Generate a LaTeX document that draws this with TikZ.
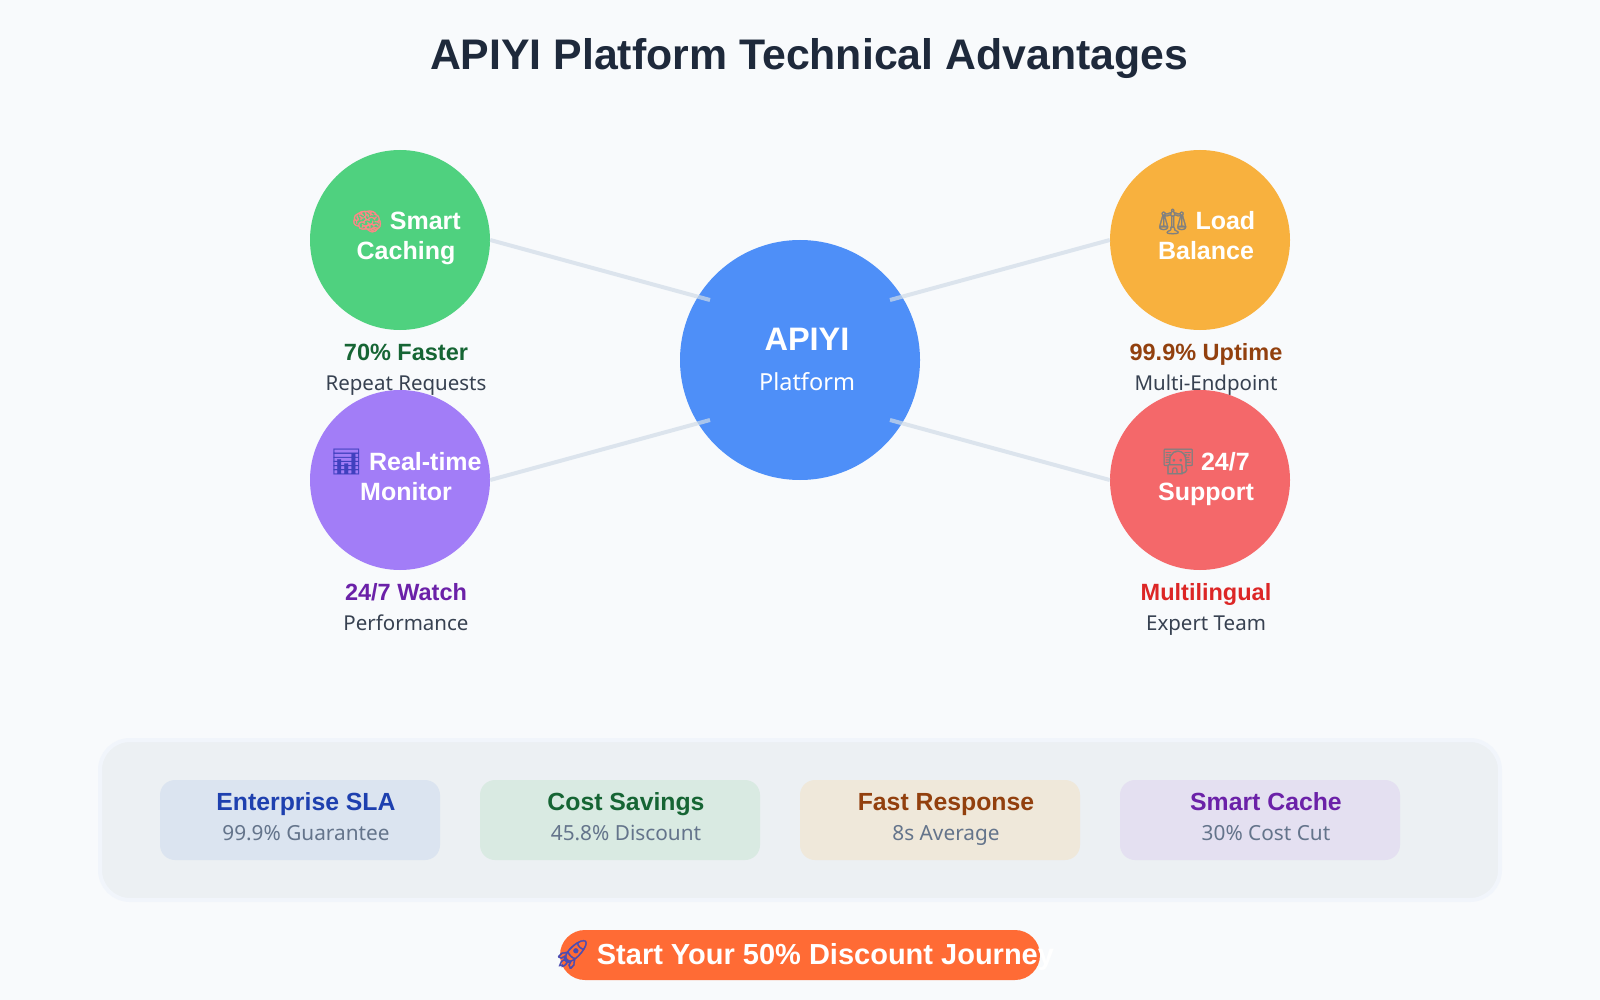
\documentclass[tikz,border=0pt]{standalone}
\usepackage{fontspec}
\setmainfont{Noto Sans}[BoldFont={Liberation Sans Bold}]
\newfontfamily\emojifont[FakeBold=1.2]{Noto Emoji}
\usetikzlibrary{positioning}
\definecolor{pagebg}{HTML}{F8FAFC}
\definecolor{titleink}{HTML}{1E293B}
\definecolor{subink}{HTML}{374151}
\definecolor{chipink}{HTML}{64748B}
\definecolor{linkline}{HTML}{D1DCE8}
\definecolor{hubblue}{HTML}{4E8FF8}
\definecolor{cachegreen}{HTML}{4FD17F}
\definecolor{loadorange}{HTML}{F8B13E}
\definecolor{watchpurple}{HTML}{A27DF7}
\definecolor{supportred}{HTML}{F4686A}
\definecolor{inkblue}{HTML}{1E40AF}
\definecolor{inkgreen}{HTML}{166534}
\definecolor{inkorange}{HTML}{92400E}
\definecolor{inkpurple}{HTML}{6B21A8}
\definecolor{inkred}{HTML}{DC2626}
\definecolor{chipblue}{HTML}{DBE4F0}
\definecolor{chipgreen}{HTML}{D9EAE2}
\definecolor{chiporange}{HTML}{EFE8DA}
\definecolor{chippurple}{HTML}{E4E0F1}
\definecolor{panelfill}{HTML}{ECF0F3}
\definecolor{panelrim}{HTML}{F1F5FB}
\definecolor{rocketorange}{HTML}{FF6B35}
\begin{document}
\begin{tikzpicture}[x=1pt,y=-1pt,
                    feature/.style={circle,inner sep=0pt,minimum size=180pt},
                    captext/.style={anchor=base,inner sep=0pt,text=white,font=\fontsize{25}{30}\selectfont\bfseries},
                    stat/.style={anchor=base,inner sep=0pt,font=\fontsize{23.5}{28}\selectfont\bfseries},
                    note/.style={anchor=base,inner sep=0pt,text=subink,font=\fontsize{20.5}{24}\selectfont},
                    chip/.style={rectangle,rounded corners=15pt,inner sep=0pt,minimum width=280pt,minimum height=80pt},
                    chiptitle/.style={anchor=base,inner sep=0pt,font=\fontsize{24.8}{28}\selectfont\bfseries},
                    chipnote/.style={anchor=base,inner sep=0pt,text=chipink,font=\fontsize{20.8}{24}\selectfont},
                    link/.style={linkline,line width=4pt,opacity=.7}]

	\useasboundingbox[fill=pagebg] (0,0) rectangle (1600,1000);

	\node[anchor=base,inner sep=0pt,text=titleink,font=\fontsize{42.8}{50}\selectfont\bfseries] (title) at (809,70) {APIYI Platform Technical Advantages};

	\node[circle,inner sep=0pt,minimum size=240pt,fill=hubblue] (hub) at (800,360) {};
	\node[feature,fill=cachegreen] (smart) at (400,240) {};
	\node[feature,fill=loadorange] (load) at (1200,240) {};
	\node[feature,fill=watchpurple] (monitor) at (400,480) {};
	\node[feature,fill=supportred] (support) at (1200,480) {};

	\coordinate (hubNW) at (710,300);
	\coordinate (hubNE) at (890,300);
	\coordinate (hubSW) at (710,420);
	\coordinate (hubSE) at (890,420);

	\path (smart.east) edge[link] (hubNW);
	\path (load.west) edge[link] (hubNE);
	\path (monitor.east) edge[link] (hubSW);
	\path (support.west) edge[link] (hubSE);

	\node[anchor=base,inner sep=0pt,text=white,font=\fontsize{32.5}{38}\selectfont\bfseries] (hubname) at (807,350) {APIYI};
	\node[anchor=base,inner sep=0pt,text=white,font=\fontsize{23.5}{28}\selectfont] (hubnote) at (807,390) {Platform};

	\node[captext] (smartA) at (406,230) {{\emojifont\color{pink!70!red}🧠} Smart};
	\node[captext] (smartB) at (406,260) {Caching};
	\node[captext] (loadA) at (1206,230) {{\emojifont\color{gray}⚖} Load};
	\node[captext] (loadB) at (1206,260) {Balance};
	\node[captext] (monitorA) at (406,470) {{\emojifont\color{blue!50!gray}📊} Real-time};
	\node[captext] (monitorB) at (406,500) {Monitor};
	\node[captext] (supportA) at (1206,470) {{\emojifont\color{gray}🧑‍💻} 24/7};
	\node[captext] (supportB) at (1206,500) {Support};

	\node[stat,text=inkgreen] (smartstat) at (406,360) {70\% Faster};
	\node[note] (smartnote) at (406,390) {Repeat Requests};
	\node[stat,text=inkorange] (loadstat) at (1206,360) {99.9\% Uptime};
	\node[note] (loadnote) at (1206,390) {Multi-Endpoint};
	\node[stat,text=inkpurple] (monitorstat) at (406,600) {24/7 Watch};
	\node[note] (monitornote) at (406,630) {Performance};
	\node[stat,text=inkred] (supportstat) at (1206,600) {Multilingual};
	\node[note] (supportnote) at (1206,630) {Expert Team};

	\node[rectangle,draw=panelrim,line width=4pt,fill=panelfill,rounded corners=30pt,inner sep=0pt,minimum width=1400pt,minimum height=160pt] (panel) at (800,820) {};

	\node[chip,fill=chipblue] (sla) at (300,820) {};
	\node[chip,fill=chipgreen] (cost) at (620,820) {};
	\node[chip,fill=chiporange] (fast) at (940,820) {};
	\node[chip,fill=chippurple] (cache) at (1260,820) {};

	\node[chiptitle,text=inkblue] (slatitle) at (306,810) {Enterprise SLA};
	\node[chipnote] (slanote) at (306,840) {99.9\% Guarantee};
	\node[chiptitle,text=inkgreen] (costtitle) at (626,810) {Cost Savings};
	\node[chipnote] (costnote) at (626,840) {45.8\% Discount};
	\node[chiptitle,text=inkorange] (fasttitle) at (946,810) {Fast Response};
	\node[chipnote] (fastnote) at (946,840) {8s Average};
	\node[chiptitle,text=inkpurple] (cachetitle) at (1266,810) {Smart Cache};
	\node[chipnote] (cachenote) at (1266,840) {30\% Cost Cut};

	\node[rectangle,rounded corners=25pt,inner sep=0pt,minimum width=480pt,minimum height=50pt,fill=rocketorange] (cta) at (800,955) {};
	\node[anchor=base,inner sep=0pt,text=white,font=\fontsize{29}{32}\selectfont\bfseries] (ctatext) at (804,964) {{\emojifont\color{blue!40!gray}🚀}\hspace{-2pt} Start Your 50\% Discount Journey};

\end{tikzpicture}
\end{document}
